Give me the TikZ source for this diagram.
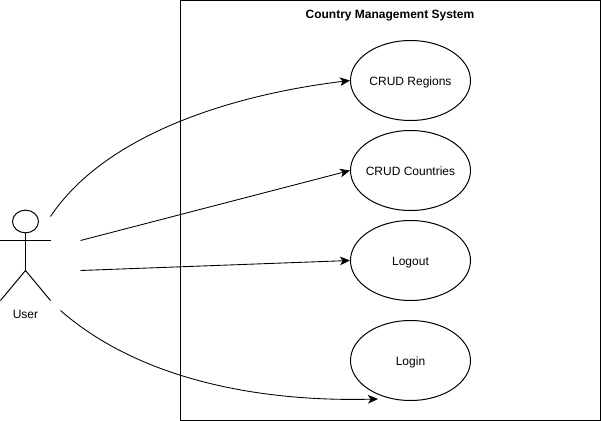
\documentclass[tikz,border=0pt]{standalone}
\usepackage{fontspec}
\setmainfont{Liberation Sans}
\usetikzlibrary{arrows.meta,arrows}
\usetikzlibrary{shapes.geometric}
\usetikzlibrary{positioning}

\tikzset{
  usecase/.style={draw, ellipse, minimum width=90pt, minimum height=60pt, inner sep=-4pt, text height=7.3pt, text depth=0.5pt, font=\fontsize{9}{11}\selectfont},
  label/.style={font=\fontsize{9}{11}\selectfont, inner sep=0pt, text height=7.3pt, text depth=0.5pt},
  link/.style={-{Stealth[length=7.5pt,width=6.5pt,inset=2pt]}, line width=0.65pt},
}

\begin{document}
\begin{tikzpicture}[x=0.75pt,y=0.75pt,yscale=-1,line width=0.75pt]
\useasboundingbox (0,0) rectangle (601,421);

% system box
\draw (180.5,0.5) rectangle (600,420);
\node [label, font=\fontsize{9}{11}\selectfont\bfseries] (title) at (390,14) {Country Management System};

% use cases
\node [usecase] (regions) at (410.5,80.5) {CRUD Regions};
\node [usecase] (countries) at (410.5,170.5) {CRUD Countries};
\node [usecase] (logout) at (410.5,260.5) {Logout};
\node [usecase] (login) at (410.5,360.5) {Login};

% actor
\node [draw, ellipse, minimum width=19.5pt, minimum height=17pt, inner sep=0pt] (head) at (25.5,221.5) {};
\coordinate (hip) at (25.5,270.5);
\coordinate (armL) at (0.5,240.5);
\coordinate (armR) at (50.5,240.5);
\coordinate (footL) at (0.5,300.5);
\coordinate (footR) at (50.5,300.5);
\draw (head) -- (hip);
\draw (armL) -- (armR);
\draw (footL) -- (hip) -- (footR);
\node [label] (user) at (25.5,313.5) {User};

% free ends of the connectors
\coordinate (from1) at (50.5,216.5);
\coordinate (from2) at (80.5,240.5);
\coordinate (from3) at (80.5,270.5);
\coordinate (from4) at (60.5,310.5);
\coordinate (toLogin) at (378,399);

\draw [link] (from1) .. controls (105,135) and (230,95) .. (regions.west);
\draw [link] (from2) -- (countries.west);
\draw [link] (from3) -- (logout.west);
\draw [link] (from4) .. controls (140,380) and (260,402) .. (toLogin);

\end{tikzpicture}
\end{document}
